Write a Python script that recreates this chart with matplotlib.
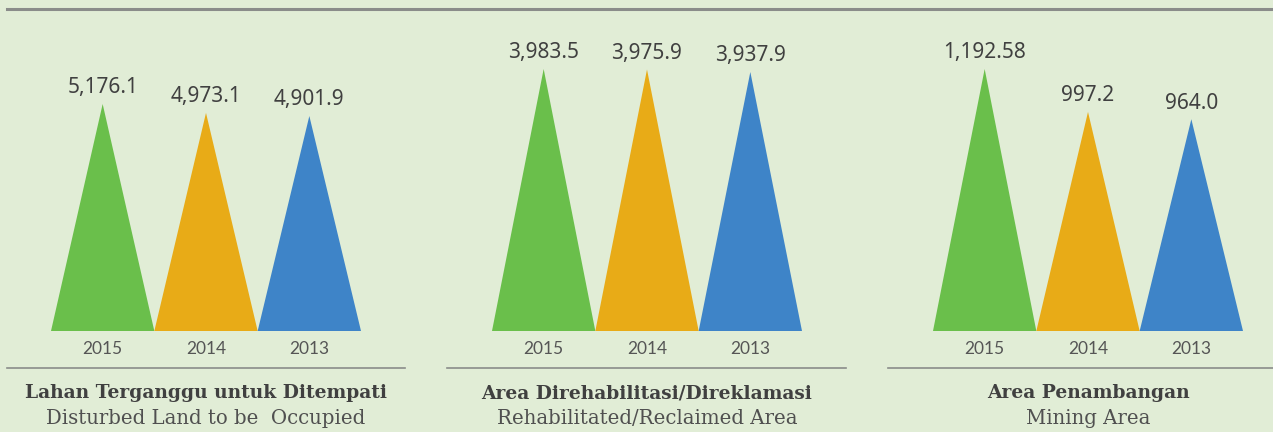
import matplotlib.pyplot as plt
from matplotlib import font_manager

years = ["2015", "2014", "2013"]
colors = ["#6abf4b", "#e8ab17", "#3e84c8"]

disturbed = [5176.1, 4973.1, 4901.9]
disturbed_labels = ["5,176.1", "4,973.1", "4,901.9"]
rehab = [3983.5, 3975.9, 3937.9]
rehab_labels = ["3,983.5", "3,975.9", "3,937.9"]
mining = [1192.58, 997.2, 964.0]
mining_labels = ["1,192.58", "997.2", "964.0"]

titles = ["Lahan Terganggu untuk Ditempati", "Area Direhabilitasi/Direklamasi", "Area Penambangan"]
subtitles = ["Disturbed Land to be  Occupied", "Rehabilitated/Reclaimed Area", "Mining Area"]

BG = "#e1edd6"
TXT = "#404040"
W, H = 1273, 432

fig = plt.figure(figsize=(W / 100, H / 100), dpi=100, facecolor=BG)


def fx(px):
    return px / W


def fy(py):
    return 1 - py / H


names = {f.name for f in font_manager.fontManager.ttflist}
year_font = "Lato" if "Lato" in names else "DejaVu Sans"

panels = [
    (51, disturbed, disturbed_labels, 5974, 7, 405),
    (492, rehab, rehab_labels, 3983.5, 447, 846),
    (933, mining, mining_labels, 1192.58, 888, 1273),
]

# top rule
fig.add_artist(plt.Line2D([fx(7), fx(1273)], [fy(9), fy(9)], color="#8a8c8a", lw=2.2))

for i, (left, vals, labs, top, l0, l1) in enumerate(panels):
    ax = fig.add_axes([fx(left), fy(331), fx(310), (331 - 69) / H])
    ax.set_xlim(-0.5, 2.5)
    ax.set_ylim(0, top)
    ax.axis("off")
    for j, (v, lab, c) in enumerate(zip(vals, labs, colors)):
        ax.fill([j - 0.5, j, j + 0.5], [0, v, 0], color=c, lw=0)
        ax.annotate(lab, (j, v), xytext=(0, 4), textcoords="offset points",
                    ha="center", va="bottom", fontsize=15, color=TXT,
                    family="Noto Sans", annotation_clip=False)
        ax.text(j, -0.068 * top, years[j],
                ha="center", va="center", fontsize=12.5, color="#555555",
                family=year_font)
    fig.add_artist(plt.Line2D([fx(l0), fx(l1)], [fy(368), fy(368)], color="#8a8c8a", lw=1.2))
    fig.text(fx(left + 155), fy(393), titles[i], ha="center", va="center",
             fontsize=13.4, fontweight="bold", color=TXT, family="DejaVu Serif")
    fig.text(fx(left + 155), fy(418), subtitles[i], ha="center", va="center",
             fontsize=14.2, color="#505050", family="DejaVu Serif")

fig.savefig("out.png", dpi=100, facecolor=BG)
